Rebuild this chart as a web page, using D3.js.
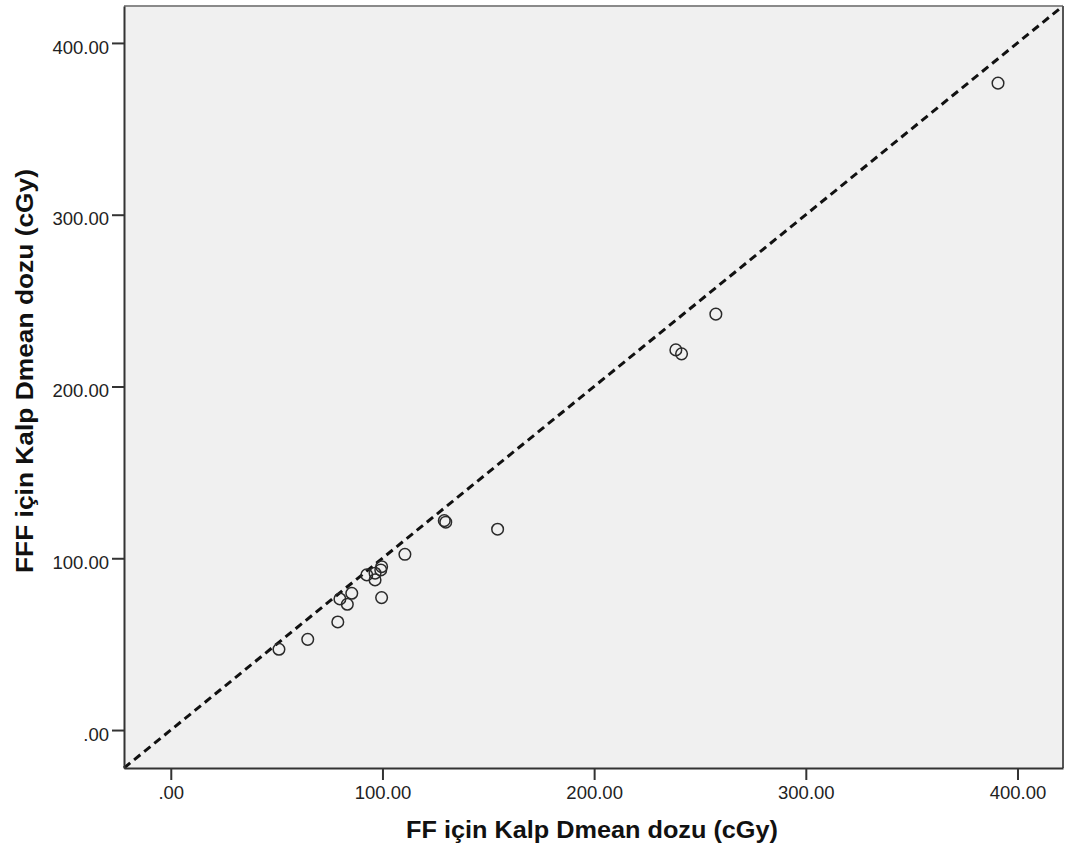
<!DOCTYPE html>
<html>
<head>
<meta charset="utf-8">
<script src="https://cdn.jsdelivr.net/npm/d3@7"></script>
<style>
  html, body { margin: 0; padding: 0; background: #ffffff; }
  svg { display: block; }
</style>
</head>
<body>
<div id="chart"></div>
<script>
// Heart Dmean dose: FF plan (x) versus FFF plan (y), in cGy
const ffDose  = [129.2, 129.9, 154.4, 110.6, 99.6, 99.2, 92.6, 96.5, 96.5, 99.6,
                 85.5, 79.9, 83.4, 78.9, 64.7, 51.1, 257.5, 238.6, 241.3, 390.8];
const fffDose = [121.9, 121.0, 116.9, 102.3, 95.1, 93.2, 90.3, 91.3, 87.4, 77.1,
                 79.6, 76.3, 73.2, 62.9, 52.8, 47.0, 242.1, 221.3, 219.0, 376.6];
const tickValues = [0, 100, 200, 300, 400];
const xTitle = "FF için Kalp Dmean dozu (cGy)";
const yTitle = "FFF için Kalp Dmean dozu (cGy)";
const domain = [-22.1, 421.5];

const width = 1080, height = 857;
const plot = { left: 124, right: 1063, top: 6, bottom: 768 };

const svg = d3.select("#chart").append("svg")
  .attr("width", width).attr("height", height);

const x = d3.scaleLinear().domain(domain).range([plot.left, plot.right]);
const y = d3.scaleLinear().domain(domain).range([plot.bottom, plot.top]);

const fmt = v => v === 0 ? ".00" : d3.format(".2f")(v);
const font = "'Liberation Sans', Arial, sans-serif";

// plot background
svg.append("rect")
  .attr("x", plot.left).attr("y", plot.top)
  .attr("width", plot.right - plot.left).attr("height", plot.bottom - plot.top)
  .attr("fill", "#f0f0f0");

// reference line y = x
svg.append("line")
  .attr("x1", x(domain[0])).attr("y1", y(domain[0]))
  .attr("x2", x(domain[1])).attr("y2", y(domain[1]))
  .attr("stroke", "#111").attr("stroke-width", 3)
  .attr("stroke-dasharray", "8,5");

// points
svg.append("g").selectAll("circle")
  .data(ffDose.map((d, i) => [d, fffDose[i]]))
  .join("circle")
  .attr("cx", d => x(d[0])).attr("cy", d => y(d[1]))
  .attr("r", 5.8)
  .attr("fill", "none").attr("stroke", "#2a2a2a").attr("stroke-width", 1.5);

// frame
svg.append("line")
  .attr("x1", plot.left).attr("x2", plot.right)
  .attr("y1", plot.top).attr("y2", plot.top)
  .attr("stroke", "#8a8a8a").attr("stroke-width", 2);
svg.append("line")
  .attr("x1", plot.right).attr("x2", plot.right)
  .attr("y1", plot.top).attr("y2", plot.bottom)
  .attr("stroke", "#555").attr("stroke-width", 2);

// axes
const xAxis = d3.axisBottom(x).tickValues(tickValues).tickFormat(fmt)
  .tickSize(12).tickSizeOuter(0).tickPadding(6);
const yAxis = d3.axisLeft(y).tickValues(tickValues).tickFormat(fmt)
  .tickSize(12).tickSizeOuter(0).tickPadding(3);

const gx = svg.append("g").attr("transform", `translate(0,${plot.bottom})`).call(xAxis);
const gy = svg.append("g").attr("transform", `translate(${plot.left},0)`).call(yAxis);

[gx, gy].forEach(g => {
  g.select(".domain").attr("stroke", "#333").attr("stroke-width", 2);
  g.selectAll(".tick line").attr("stroke", "#333").attr("stroke-width", 2);
  g.selectAll(".tick text")
    .attr("fill", "#222")
    .style("font-family", font)
    .style("font-size", "18.5px");
});
gy.selectAll(".tick text").attr("dy", "0.55em");

// axis titles
svg.append("text")
  .attr("x", 592).attr("y", 838)
  .attr("text-anchor", "middle")
  .attr("textLength", 372).attr("lengthAdjust", "spacingAndGlyphs")
  .style("font-family", font)
  .style("font-size", "23px").style("font-weight", "bold")
  .attr("fill", "#111")
  .text(xTitle);

svg.append("text")
  .attr("transform", `translate(33,371) rotate(-90)`)
  .attr("text-anchor", "middle")
  .attr("textLength", 404).attr("lengthAdjust", "spacingAndGlyphs")
  .style("font-family", font)
  .style("font-size", "23px").style("font-weight", "bold")
  .attr("fill", "#111")
  .text(yTitle);
</script>
</body>
</html>
